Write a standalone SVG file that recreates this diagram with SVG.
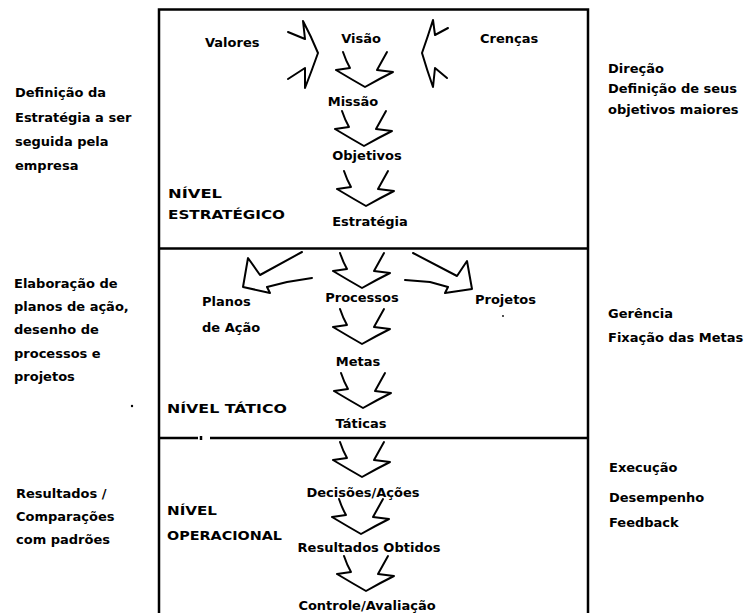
<svg xmlns="http://www.w3.org/2000/svg" xmlns:xlink="http://www.w3.org/1999/xlink" width="752" height="613" viewBox="0 0 752 613">
  <style>
    text { font-family: "DejaVu Sans", "Liberation Sans", sans-serif; font-size: 13px; font-weight: bold; fill: #000; }
    .mid { text-anchor: middle; }
    .frame { fill: none; stroke: #000; stroke-width: 2.5; }
    .arrow { fill: none; stroke: #000; stroke-width: 2; stroke-linejoin: round; stroke-linecap: round; }
  </style>
  <defs>
    <!-- hand-drawn style downward block arrow, origin at top centre -->
    <path id="down" d="M-22,0 Q-19,9 -15,16 L-29,18 Q-14,27 0,35 Q14,27 28,20 L12,18 L22,0"/>
  </defs>

  <rect width="752" height="613" fill="#fff"/>

  <!-- frame with the three levels -->
  <g id="frame">
    <path class="frame" d="M159,613 V9.5 H588 V613"/>
    <line class="frame" x1="159" y1="248.5" x2="588" y2="248.5"/>
    <line class="frame" x1="159" y1="438" x2="198" y2="438"/>
    <line class="frame" x1="210" y1="438" x2="588" y2="438"/>
    <line class="frame" x1="201" y1="436" x2="201" y2="440" stroke-width="2"/>
  </g>

  <!-- connectors -->
  <g id="connectors" class="arrow">
    <path d="M288,32 L305,39 L303,21 Q311,36 318,53 Q312,70 305,88 L305,68 L288,79"/>
    <path d="M448,28 L435,35 L433,20 Q428,36 422,53 Q427,70 433,87 L435,68 L447,78"/>
    <use xlink:href="#down" x="365" y="52"/>
    <use xlink:href="#down" x="364" y="111"/>
    <use xlink:href="#down" x="366" y="171"/>
    <use xlink:href="#down" x="362" y="253"/>
    <path d="M302,252 L260,275 L248,258 L243,287 L270,293 L267,287 L287,282 L312,278"/>
    <path d="M413,253 L457,276 L467,261 L472,289 L445,293 L448,287 L430,282 L405,280"/>
    <use xlink:href="#down" x="362" y="309"/>
    <use xlink:href="#down" x="363" y="373"/>
    <use xlink:href="#down" x="362" y="442"/>
    <use xlink:href="#down" x="361" y="499"/>
    <use xlink:href="#down" x="366" y="556"/>
  </g>

  <!-- strategic level -->
  <g id="valores"><text x="205" y="47">Valores</text></g>
  <g id="visao"><text class="mid" x="361" y="43">Visão</text></g>
  <g id="crencas"><text x="480" y="43">Crenças</text></g>
  <g id="missao"><text class="mid" x="353" y="106">Missão</text></g>
  <g id="objetivos"><text class="mid" x="367" y="160">Objetivos</text></g>
  <g id="estrategia"><text class="mid" x="370" y="226">Estratégia</text></g>
  <g id="nivel-estrategico">
    <text x="168" y="198" textLength="54" lengthAdjust="spacingAndGlyphs">NÍVEL</text>
    <text x="168" y="219" textLength="117" lengthAdjust="spacingAndGlyphs">ESTRATÉGICO</text>
  </g>

  <!-- tactical level -->
  <g id="planos">
    <text x="202" y="306">Planos</text>
    <text x="202" y="332">de Ação</text>
  </g>
  <g id="processos"><text class="mid" x="362" y="302">Processos</text></g>
  <g id="projetos">
    <text x="475" y="304">Projetos</text>
    <circle cx="503" cy="316" r="0.9"/>
  </g>
  <g id="metas"><text class="mid" x="358" y="366">Metas</text></g>
  <g id="taticas"><text class="mid" x="361" y="428">Táticas</text></g>
  <g id="nivel-tatico"><text x="167" y="413" textLength="120" lengthAdjust="spacingAndGlyphs">NÍVEL TÁTICO</text></g>

  <!-- operational level -->
  <g id="decisoes"><text class="mid" x="363" y="497">Decisões/Ações</text></g>
  <g id="resultados"><text class="mid" x="369" y="552">Resultados Obtidos</text></g>
  <g id="controle"><text class="mid" x="367" y="610">Controle/Avaliação</text></g>
  <g id="nivel-operacional">
    <text x="167" y="515" textLength="50" lengthAdjust="spacingAndGlyphs">NÍVEL</text>
    <text x="167" y="540" textLength="115" lengthAdjust="spacingAndGlyphs">OPERACIONAL</text>
  </g>

  <!-- left-hand descriptions -->
  <g id="desc-estrategia">
    <text x="15" y="97">Definição da</text>
    <text x="15" y="122">Estratégia a ser</text>
    <text x="15" y="146">seguida pela</text>
    <text x="15" y="170">empresa</text>
  </g>
  <g id="desc-tatico">
    <text x="14" y="288">Elaboração de</text>
    <text x="14" y="311">planos de ação,</text>
    <text x="14" y="334">desenho de</text>
    <text x="14" y="358">processos e</text>
    <text x="14" y="381">projetos</text>
    <circle cx="132" cy="406" r="1.2"/>
  </g>
  <g id="desc-operacional">
    <text x="16" y="498">Resultados /</text>
    <text x="16" y="521">Comparações</text>
    <text x="16" y="544">com padrões</text>
  </g>

  <!-- right-hand descriptions -->
  <g id="direcao">
    <text x="608" y="73">Direção</text>
    <text x="608" y="93">Definição de seus</text>
    <text x="608" y="114">objetivos maiores</text>
  </g>
  <g id="gerencia">
    <text x="608" y="318">Gerência</text>
    <text x="608" y="342">Fixação das Metas</text>
  </g>
  <g id="execucao">
    <text x="609" y="472">Execução</text>
    <text x="609" y="502">Desempenho</text>
    <text x="609" y="527">Feedback</text>
  </g>
</svg>
